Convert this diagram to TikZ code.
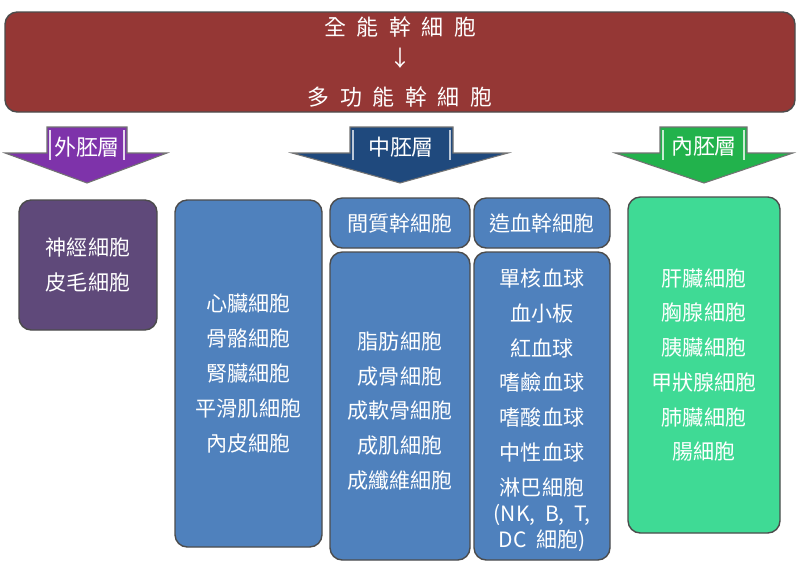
\documentclass[tikz,border=0pt]{standalone}
\usepackage{fontspec}
\setmainfont{Noto Sans CJK TC}
\begin{document}
\begin{tikzpicture}[x=0.02cm,y=-0.02cm,
  cellbox/.style={draw=black!70, line width=0.8pt, rounded corners=7pt, text=white, align=center,
    font=\fontsize{12}{19.8}\selectfont, inner sep=0pt},
  layerarrow/.style={draw=black!55, line width=0.6pt},
  layerlabel/.style={text=white, font=\fontsize{12.5}{14}\selectfont, inner sep=0pt},
  toptext/.style={text=white, font=\fontsize{12.5}{14}\selectfont, inner sep=0pt}]
\definecolor{topred}{HTML}{953735}
\definecolor{ectoA}{HTML}{7E33AA}
\definecolor{ectoB}{HTML}{5F497A}
\definecolor{mesoA}{HTML}{1F497D}
\definecolor{mesoB}{HTML}{4F81BD}
\definecolor{endoA}{HTML}{22B24C}
\definecolor{endoB}{HTML}{3FDA95}
\useasboundingbox (0,0) rectangle (800,578);
\fill[white] (0,0) rectangle (800,578);
% top box
\node[draw=black!70, line width=0.8pt, fill=topred, rounded corners=7pt,
  minimum width=790*0.02cm, minimum height=100*0.02cm, inner sep=0pt] (top) at (400,62) {};
\node[toptext] (t1) at (400,27) {全\hspace{6pt}能\hspace{6pt}幹\hspace{6pt}細\hspace{6pt}胞};
\node[toptext] (t2) at (400,58) {↓};
\node[toptext] (t3) at (400,97) {多\hspace{6pt}功\hspace{6pt}能\hspace{6pt}幹\hspace{6pt}細\hspace{6pt}胞};
% layer arrows
\draw[layerarrow, fill=ectoA] (47,127) -- (127,127) -- (127,153) -- (167,153) -- (87,183) -- (5,153) -- (47,153) -- cycle;
\draw[white!80!ectoA, line width=1pt] (50,130) -- (50,160) (124,130) -- (124,160);
\node[layerlabel] (ecto) at (87,147) {外胚層};
\draw[layerarrow, fill=mesoA] (350,127) -- (453,127) -- (453,153) -- (508,153) -- (400,183) -- (292,153) -- (350,153) -- cycle;
\draw[white!70!mesoA, line width=1pt] (353,130) -- (353,160) (450,130) -- (450,160);
\node[layerlabel] (meso) at (401,147) {中胚層};
\draw[layerarrow, fill=endoA] (660,127) -- (747,127) -- (747,153) -- (793,153) -- (704,183) -- (615,153) -- (660,153) -- cycle;
\draw[white!75!endoA, line width=1pt] (663,130) -- (663,160) (744,130) -- (744,160);
\node[layerlabel] (endo) at (704,147) {內胚層};
% ectoderm box
\node[cellbox, fill=ectoB, minimum width=138*0.02cm, minimum height=130*0.02cm] (ectobox) at (88,265)
  {神經細胞\\皮毛細胞};
% mesoderm boxes
\node[cellbox, fill=mesoB, minimum width=147*0.02cm, minimum height=347*0.02cm] (mesobox) at (248.5,373.5)
  {心臟細胞\\骨骼細胞\\腎臟細胞\\平滑肌細胞\\內皮細胞};
\node[cellbox, fill=mesoB, minimum width=140*0.02cm, minimum height=50*0.02cm] (msc) at (400,223)
  {間質幹細胞};
\node[cellbox, fill=mesoB, minimum width=136*0.02cm, minimum height=50*0.02cm] (hsc) at (542,223)
  {造血幹細胞};
\node[cellbox, fill=mesoB, minimum width=140*0.02cm, minimum height=308*0.02cm] (mscbox) at (400,406)
  {};
\node[text=white, align=center, font=\fontsize{12}{19.8}\selectfont, inner sep=0pt] (msctext) at (400,411)
  {脂肪細胞\\成骨細胞\\成軟骨細胞\\成肌細胞\\成纖維細胞};
\node[cellbox, fill=mesoB, minimum width=136*0.02cm, minimum height=308*0.02cm] (hscbox) at (542,406)
  {};
\node[text=white, align=center, font=\fontsize{12}{19.8}\selectfont, inner sep=0pt] (hsctext) at (542,410)
  {單核血球\\血小板\\紅血球\\嗜鹼血球\\嗜酸血球\\中性血球\\淋巴細胞\\[-5pt](NK,\ \ B,\ \ T,\\[-5pt]DC\ \ 細胞)};
% endoderm box
\node[cellbox, fill=endoB, minimum width=152*0.02cm, minimum height=336*0.02cm] (endobox) at (704,365)
  {肝臟細胞\\胸腺細胞\\胰臟細胞\\甲狀腺細胞\\肺臟細胞\\腸細胞};
\end{tikzpicture}
\end{document}
